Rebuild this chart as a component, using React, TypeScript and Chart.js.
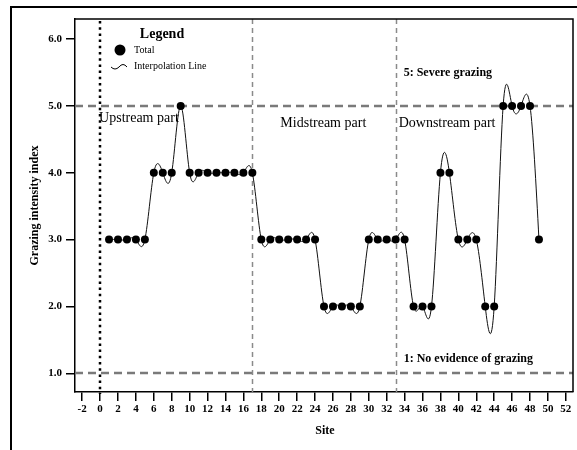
import React, { useEffect, useRef } from 'react';
import { Chart, registerables } from 'chart.js';

Chart.register(...registerables);

// ---------------- data ----------------
const sites: number[] = [
  1, 2, 3, 4, 5, 6, 7, 8, 9, 10, 11, 12, 13, 14, 15, 16, 17, 18, 19, 20, 21, 22, 23, 24, 25,
  26, 27, 28, 29, 30, 31, 32, 33, 34, 35, 36, 37, 38, 39, 40, 41, 42, 43, 44, 45, 46, 47, 48, 49,
];
const grazingIndex: number[] = [
  3, 3, 3, 3, 3, 4, 4, 4, 5, 4, 4, 4, 4, 4, 4, 4, 4, 3, 3, 3, 3, 3, 3, 3, 2,
  2, 2, 2, 2, 3, 3, 3, 3, 3, 2, 2, 2, 4, 4, 3, 3, 3, 2, 2, 5, 5, 5, 5, 3,
];
const xTicks: number[] = [-2, 0, 2, 4, 6, 8, 10, 12, 14, 16, 18, 20, 22, 24, 26, 28, 30, 32, 34, 36, 38, 40, 42, 44, 46, 48, 50, 52];
const yTicks: number[] = [1, 2, 3, 4, 5, 6];
const sectionBoundaries: number[] = [17, 33];
const originSite = 0;
const referenceLevels: number[] = [5, 1];
const referenceLabels: string[] = ['5: Severe grazing', '1: No evidence of grazing'];
const sectionLabels: string[] = ['Upstream part', 'Midstream part', 'Downstream part'];

const SERIF = '"Liberation Serif", "Times New Roman", serif';

// natural cubic spline coefficients
function naturalSpline(xs: number[], ys: number[]) {
  const n = xs.length;
  const h: number[] = [];
  for (let i = 0; i < n - 1; i++) h.push(xs[i + 1] - xs[i]);
  const l = new Array(n).fill(0);
  const mu = new Array(n).fill(0);
  const z = new Array(n).fill(0);
  l[0] = 1;
  for (let i = 1; i < n - 1; i++) {
    const alpha = (3 / h[i]) * (ys[i + 1] - ys[i]) - (3 / h[i - 1]) * (ys[i] - ys[i - 1]);
    l[i] = 2 * (xs[i + 1] - xs[i - 1]) - h[i - 1] * mu[i - 1];
    mu[i] = h[i] / l[i];
    z[i] = (alpha - h[i - 1] * z[i - 1]) / l[i];
  }
  l[n - 1] = 1;
  const b = new Array(n).fill(0);
  const c = new Array(n).fill(0);
  const d = new Array(n).fill(0);
  for (let j = n - 2; j >= 0; j--) {
    c[j] = z[j] - mu[j] * c[j + 1];
    b[j] = (ys[j + 1] - ys[j]) / h[j] - (h[j] * (c[j + 1] + 2 * c[j])) / 3;
    d[j] = (c[j + 1] - c[j]) / (3 * h[j]);
  }
  return { b, c, d };
}

const decorPlugin = {
  id: 'decor',
  beforeDatasetsDraw(chart: any) {
    const { ctx, chartArea, scales } = chart;
    const xs = scales.x;
    const ys = scales.y;
    ctx.save();
    ctx.beginPath();
    ctx.rect(chartArea.left, chartArea.top, chartArea.right - chartArea.left, chartArea.bottom - chartArea.top);
    ctx.clip();

    // horizontal reference dashed lines
    ctx.strokeStyle = '#7a7a7a';
    ctx.lineWidth = 2.5;
    ctx.setLineDash([8, 5]);
    referenceLevels.forEach((v) => {
      const y = Math.round(ys.getPixelForValue(v));
      ctx.beginPath();
      ctx.moveTo(chartArea.left, y);
      ctx.lineTo(chartArea.right, y);
      ctx.stroke();
    });

    // section boundaries
    ctx.strokeStyle = '#8a8a8a';
    ctx.lineWidth = 1.5;
    ctx.setLineDash([5, 4]);
    sectionBoundaries.forEach((v) => {
      const x = Math.round(xs.getPixelForValue(v)) + 0.5;
      ctx.beginPath();
      ctx.moveTo(x, chartArea.top);
      ctx.lineTo(x, chartArea.bottom);
      ctx.stroke();
    });
    ctx.restore();

    // dotted origin line
    ctx.save();
    ctx.strokeStyle = '#000';
    ctx.lineWidth = 2.5;
    ctx.setLineDash([2.5, 3.7]);
    const x0 = Math.round(xs.getPixelForValue(originSite));
    ctx.beginPath();
    ctx.moveTo(x0, chartArea.top + 2);
    ctx.lineTo(x0, chartArea.bottom + 2);
    ctx.stroke();
    ctx.restore();

    // interpolation line (natural cubic spline through the data)
    const { b, c, d } = naturalSpline(sites, grazingIndex);
    ctx.save();
    ctx.beginPath();
    ctx.rect(chartArea.left, chartArea.top, chartArea.right - chartArea.left, chartArea.bottom - chartArea.top);
    ctx.clip();
    ctx.strokeStyle = '#111';
    ctx.lineWidth = 1;
    ctx.setLineDash([]);
    ctx.beginPath();
    const steps = 16;
    for (let i = 0; i < sites.length - 1; i++) {
      for (let s = 0; s <= steps; s++) {
        if (i > 0 && s === 0) continue;
        const dx = ((sites[i + 1] - sites[i]) * s) / steps;
        const v = grazingIndex[i] + b[i] * dx + c[i] * dx * dx + d[i] * dx * dx * dx;
        const px = xs.getPixelForValue(sites[i] + dx);
        const py = ys.getPixelForValue(v);
        if (i === 0 && s === 0) ctx.moveTo(px, py);
        else ctx.lineTo(px, py);
      }
    }
    ctx.stroke();
    ctx.restore();
  },
  afterDraw(chart: any) {
    const { ctx, chartArea, scales } = chart;
    const xs = scales.x;
    const ys = scales.y;
    ctx.save();
    // outer frame
    ctx.strokeStyle = '#000';
    ctx.lineWidth = 2;
    ctx.beginPath();
    ctx.moveTo(11, 450);
    ctx.lineTo(11, 7);
    ctx.lineTo(577, 7);
    ctx.stroke();

    // plot frame (top and right)
    ctx.lineWidth = 1.5;
    ctx.beginPath();
    ctx.moveTo(chartArea.left, chartArea.top);
    ctx.lineTo(chartArea.right, chartArea.top);
    ctx.lineTo(chartArea.right, chartArea.bottom);
    ctx.stroke();

    // legend
    ctx.fillStyle = '#000';
    ctx.textBaseline = 'middle';
    ctx.textAlign = 'center';
    ctx.font = `bold 14px ${SERIF}`;
    ctx.fillText('Legend', 162, 34);
    ctx.beginPath();
    ctx.arc(120, 50, 5.5, 0, Math.PI * 2);
    ctx.fill();
    ctx.textAlign = 'left';
    ctx.font = `10px ${SERIF}`;
    ctx.fillText('Total', 134, 50);
    ctx.fillText('Interpolation Line', 134, 66);
    ctx.lineWidth = 1;
    ctx.beginPath();
    ctx.moveTo(111, 67);
    ctx.quadraticCurveTo(115, 71, 119, 67);
    ctx.quadraticCurveTo(123, 62, 127, 67);
    ctx.stroke();

    // section labels
    ctx.font = `14px ${SERIF}`;
    const labelY = ys.getPixelForValue(4.82);
    ctx.fillText(sectionLabels[0], xs.getPixelForValue(originSite) - 1, labelY);
    ctx.fillText(sectionLabels[1], xs.getPixelForValue(sectionBoundaries[0]) + 28, labelY + 5);
    ctx.fillText(sectionLabels[2], xs.getPixelForValue(sectionBoundaries[1]) + 3, labelY + 5);

    // reference labels
    ctx.font = `bold 12px ${SERIF}`;
    const refX = xs.getPixelForValue(sectionBoundaries[1]) + 8;
    ctx.fillText(referenceLabels[0], refX, ys.getPixelForValue(referenceLevels[0]) - 33);
    ctx.fillText(referenceLabels[1], refX, ys.getPixelForValue(referenceLevels[1]) - 14);

    // axis titles
    ctx.font = `bold 12px ${SERIF}`;
    ctx.textAlign = 'center';
    ctx.fillText('Site', (chartArea.left + chartArea.right) / 2 + 1, 431);
    ctx.save();
    ctx.translate(35, (chartArea.top + chartArea.bottom) / 2);
    ctx.rotate(-Math.PI / 2);
    ctx.fillText('Grazing intensity index', 0, 0);
    ctx.restore();
    ctx.restore();
  },
};

export default function App() {
  const canvasRef = useRef<HTMLCanvasElement | null>(null);

  useEffect(() => {
    if (!canvasRef.current) return;
    const tickFont = { family: SERIF, weight: 'bold' as const, size: 11 };
    const chart = new Chart(canvasRef.current, {
      type: 'scatter',
      data: {
        datasets: [
          {
            label: 'Total',
            data: sites.map((s, i) => ({ x: s, y: grazingIndex[i] })),
            pointRadius: 4,
            pointHoverRadius: 4,
            pointBackgroundColor: '#000',
            pointBorderColor: '#000',
            pointBorderWidth: 0,
            showLine: false,
          },
        ],
      },
      options: {
        responsive: false,
        animation: false,
        events: [],
        layout: { padding: { top: 19, right: 1, left: 0, bottom: 0 } },
        plugins: { legend: { display: false }, tooltip: { enabled: false } },
        scales: {
          x: {
            type: 'linear',
            min: -2.8,
            max: 52.8,
            afterBuildTicks: (s: any) => {
              s.ticks = xTicks.map((v) => ({ value: v }));
            },
            afterFit: (s: any) => {
              s.height = 58;
            },
            grid: { drawOnChartArea: false, drawTicks: true, tickLength: 9, color: '#000', lineWidth: 1.5 },
            border: { display: true, color: '#000', width: 1.5 },
            ticks: {
              font: tickFont,
              color: '#000',
              padding: 2,
              maxRotation: 0,
              autoSkip: false,
              callback: (v: any) => String(v),
            },
          },
          y: {
            type: 'linear',
            min: 0.72,
            max: 6.3,
            afterBuildTicks: (s: any) => {
              s.ticks = yTicks.map((v) => ({ value: v }));
            },
            afterFit: (s: any) => {
              s.width = 75;
            },
            grid: { drawOnChartArea: false, drawTicks: true, tickLength: 9, color: '#000', lineWidth: 1.5 },
            border: { display: true, color: '#000', width: 1.5 },
            ticks: {
              font: tickFont,
              color: '#000',
              padding: 4,
              callback: (v: any) => Number(v).toFixed(1),
            },
          },
        },
      },
      plugins: [decorPlugin],
    });
    return () => chart.destroy();
  }, []);

  return (
    <div style={{ position: 'absolute', left: 0, top: 0, width: 577, height: 450, background: '#fff' }}>
      <canvas ref={canvasRef} width={577} height={450} style={{ width: 577, height: 450, display: 'block' }} />
    </div>
  );
}
